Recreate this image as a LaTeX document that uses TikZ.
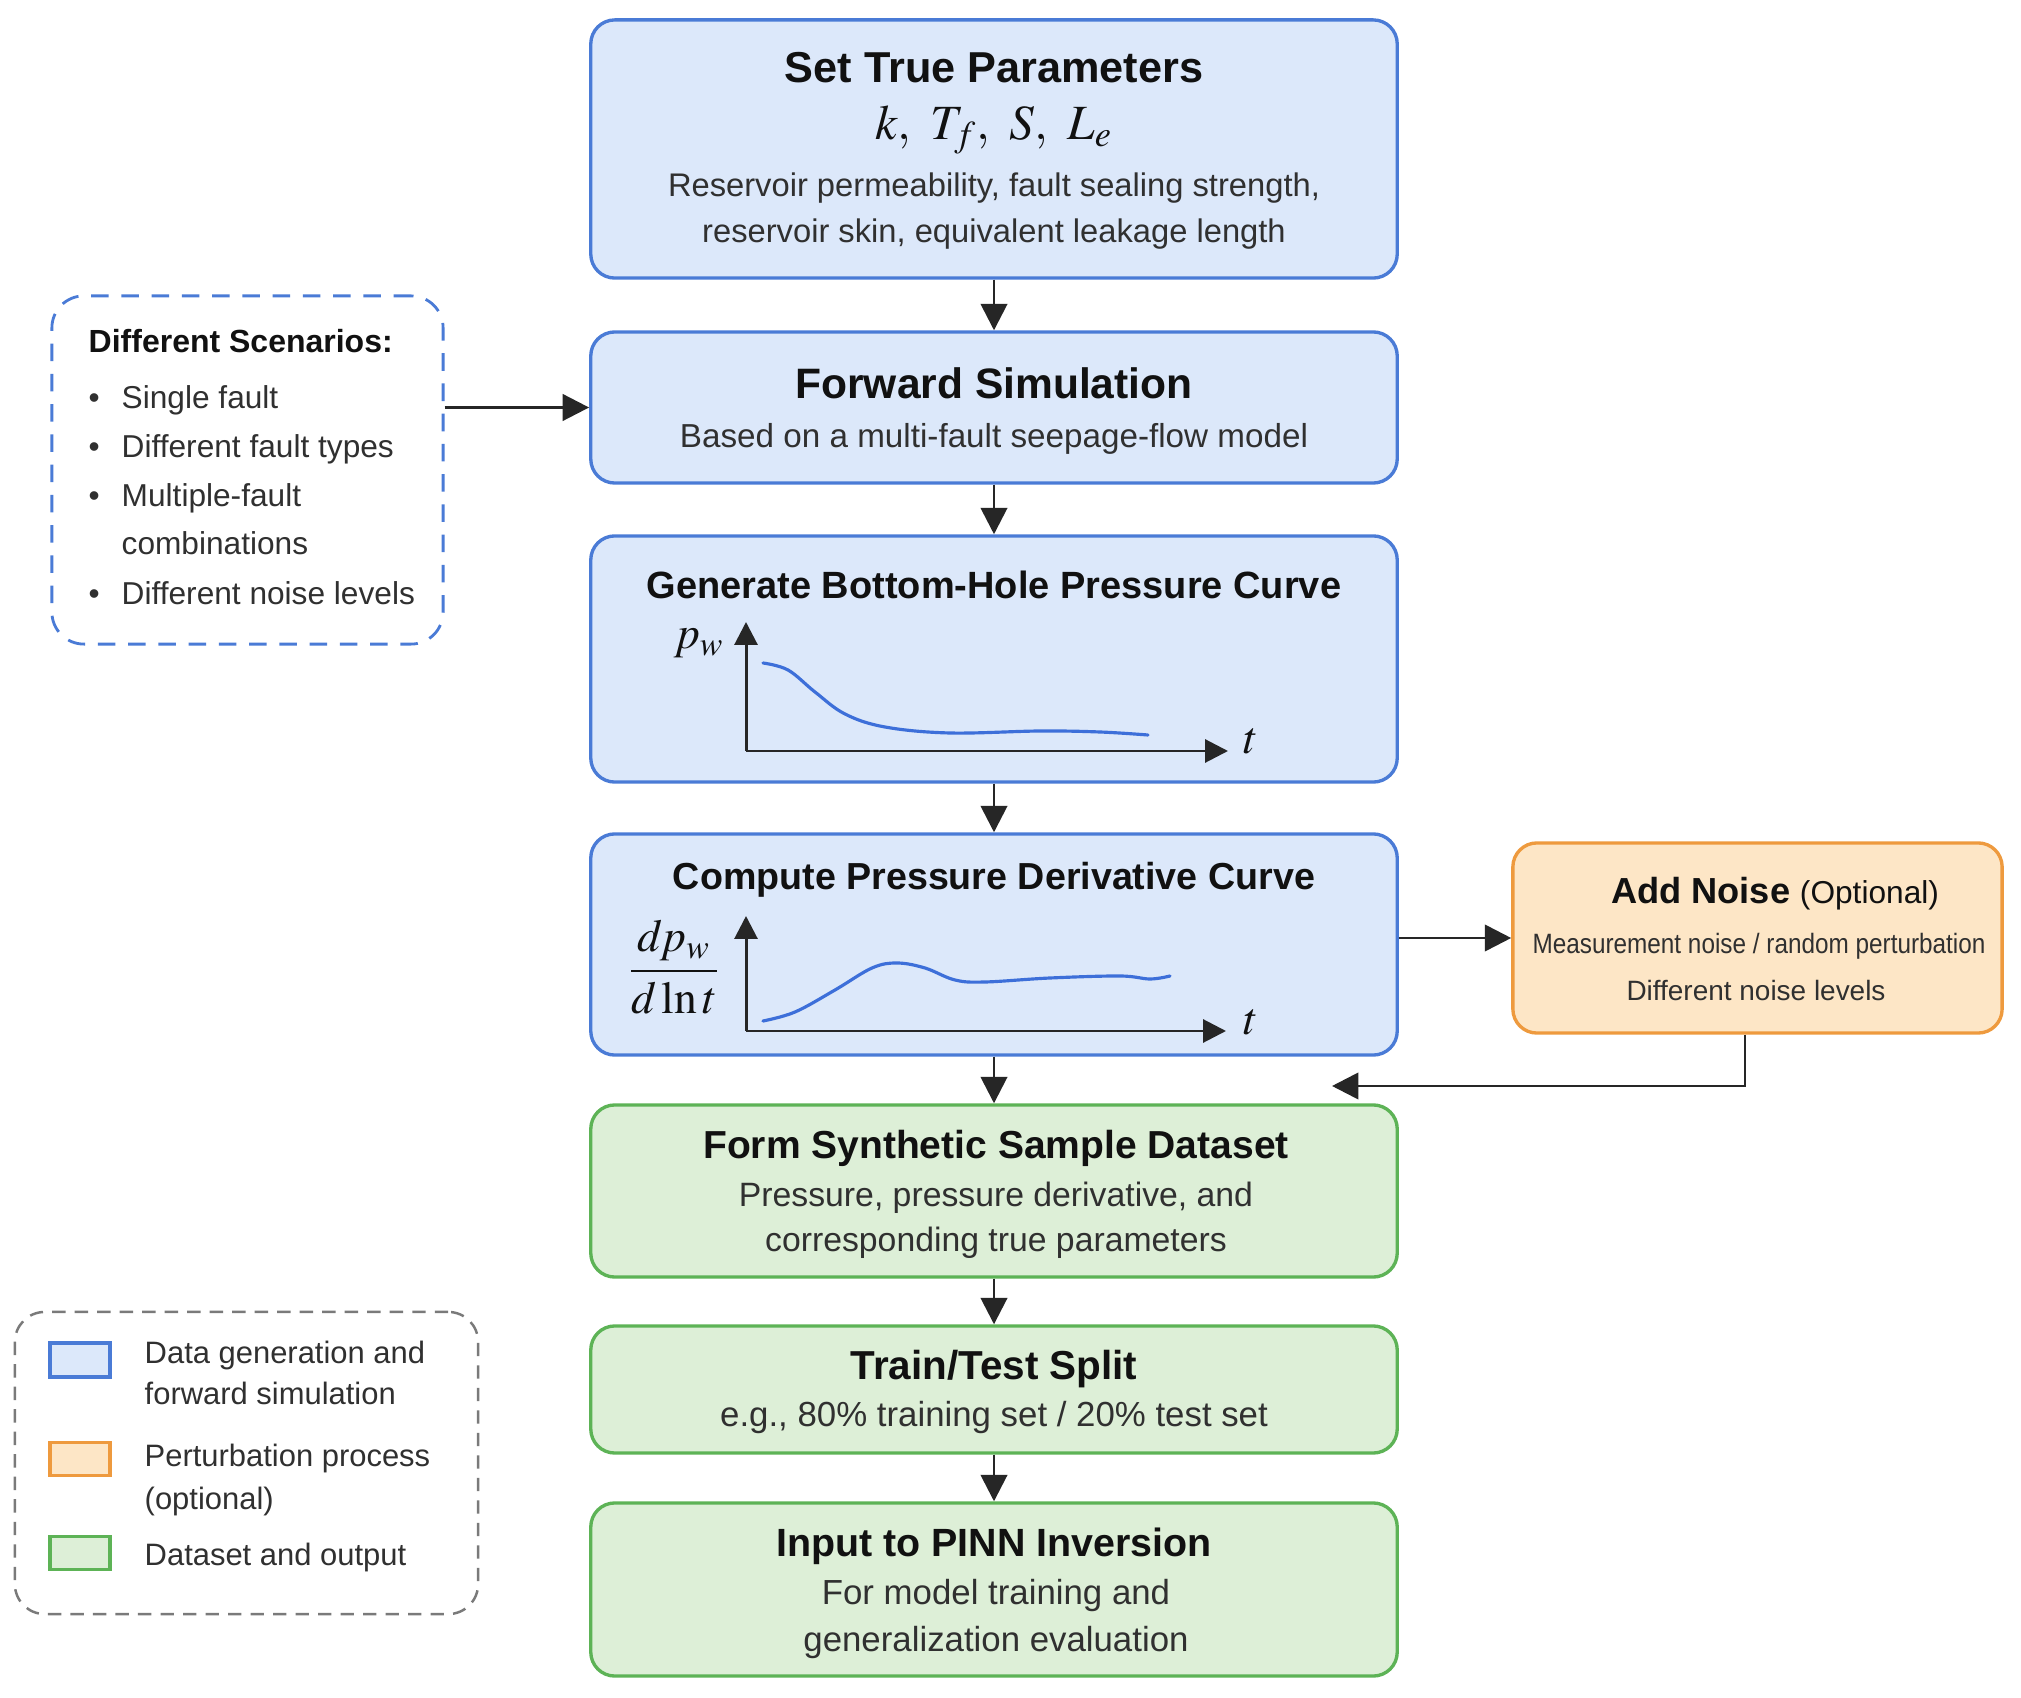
\documentclass[tikz,border=0pt]{standalone}
\usepackage{mathptmx}
\usepackage[no-math]{fontspec}
\setmainfont{Liberation Sans}
\usetikzlibrary{arrows.meta}
\definecolor{bblue}{HTML}{4A7BD6}
\definecolor{bfill}{HTML}{DCE8FA}
\definecolor{oline}{HTML}{EE9A3E}
\definecolor{ofill}{HTML}{FDE6C6}
\definecolor{gline}{HTML}{5DB356}
\definecolor{gfill}{HTML}{DDEFD7}
\definecolor{curvecol}{HTML}{3D6FD9}
\definecolor{txt}{HTML}{111111}
\definecolor{subtxt}{HTML}{303030}
\definecolor{legline}{HTML}{7A7A7A}
\newcommand{\myfs}[2]{\fontsize{#1}{#2}\selectfont}
\tikzset{
  box/.style={rounded corners=0.24cm, line width=0.95pt, inner sep=0pt},
  bluebox/.style={box, draw=bblue, fill=bfill},
  orangebox/.style={box, draw=oline, fill=ofill},
  greenbox/.style={box, draw=gline, fill=gfill},
  ttl/.style={text=txt, inner sep=0pt},
  subt/.style={text=subtxt, align=center, inner sep=0pt},
  lbl/.style={text=subtxt, inner sep=0pt, anchor=base west},
  arr/.style={draw=black!85, line width=0.8pt, -{Triangle[length=7.5pt,width=7.5pt]}},
  axisline/.style={draw=black!85, line width=0.85pt, -{Triangle[length=6.5pt,width=6.5pt]}},
  curveline/.style={draw=curvecol, line width=0.9pt, line cap=round},
  swatch/.style={line width=1pt},
}
\begin{document}
\begin{tikzpicture}[x=0.01cm, y=-0.01cm]
\useasboundingbox (0,0) rectangle (2021,1698);
\fill[white] (0,0) rectangle (2021,1698);

% main boxes
\node[bluebox, minimum width=8.06cm, minimum height=2.58cm] (b1) at (994,149) {};
\node[bluebox, minimum width=8.06cm, minimum height=1.51cm] (b2) at (994,407.5) {};
\node[bluebox, minimum width=8.06cm, minimum height=2.46cm] (b3) at (994,659) {};
\node[bluebox, minimum width=8.06cm, minimum height=2.21cm] (b4) at (994,944.5) {};
\node[greenbox, minimum width=8.06cm, minimum height=1.72cm] (b5) at (994,1191) {};
\node[greenbox, minimum width=8.06cm, minimum height=1.27cm] (b6) at (994,1389.5) {};
\node[greenbox, minimum width=8.06cm, minimum height=1.73cm] (b7) at (994,1589.5) {};
\node[orangebox, minimum width=4.89cm, minimum height=1.90cm] (noise) at (1757.5,938) {};
\node[draw=bblue, line width=0.8pt, dash pattern=on 5pt off 3.6pt, rounded corners=0.32cm,
      minimum width=3.91cm, minimum height=3.48cm, inner sep=0pt] (scen) at (247.5,470) {};
\node[draw=legline, line width=0.7pt, dash pattern=on 3.8pt off 2.6pt, rounded corners=0.3cm,
      minimum width=4.63cm, minimum height=3.02cm, inner sep=0pt] (legend) at (246.5,1463) {};

% box 1
\node[ttl, font=\myfs{12.3}{14}\bfseries] (t1) at (994,68) {Set True Parameters};
\node[ttl, font=\myfs{14}{16}] (m1) at (994,130) {$k,\ T_f,\ S,\ L_e$};
\node[subt, font=\myfs{9.3}{13.1}] (s1) at (994,211) {Reservoir permeability, fault sealing strength,\\reservoir skin, equivalent leakage length};

% box 2
\node[ttl, font=\myfs{12.1}{14}\bfseries] (t2) at (994,383) {Forward Simulation};
\node[subt, font=\myfs{9.45}{13}] (s2) at (994,439) {Based on a multi-fault seepage-flow model};

% box 3
\node[ttl, font=\myfs{10.8}{13}\bfseries] (t3) at (994,585) {Generate Bottom-Hole Pressure Curve};
\coordinate (o3) at (746,751);
\draw[axisline] (o3) -- (746,622);
\draw[axisline] (o3) -- (1228,751);
\draw[curveline] plot[smooth, tension=0.6] coordinates {(763,663) (788,670) (815,692) (845,714) (885,727) (950,733) (1040,731) (1100,732) (1148,735)};
\node[ttl, font=\myfs{13}{15}] (pw) at (699,643) {$p_w$};
\node[ttl, font=\myfs{13}{15}] (tx3) at (1251,741) {$t$};

% box 4
\node[ttl, font=\myfs{10.7}{13}\bfseries] (t4) at (994,880) {Compute Pressure Derivative Curve};
\coordinate (o4) at (746,1031);
\draw[axisline] (o4) -- (746,916);
\draw[axisline] (o4) -- (1226,1031);
\draw[curveline] plot[smooth, tension=0.6] coordinates {(763,1021) (795,1012) (835,990) (872,968) (897,963) (925,968) (955,980) (985,982) (1050,978) (1120,976) (1150,979) (1170,976)};
\node[ttl, font=\myfs{13}{15}] (frac4) at (674,967) {$\displaystyle\frac{d\mkern-1mu p_w}{d\ln t}$};
\node[ttl, font=\myfs{13}{15}] (tx4) at (1251,1022) {$t$};

% noise box
\node[ttl] (t8) at (1775,894) {{\myfs{10.3}{12}\bfseries Add Noise} {\myfs{9}{11}(Optional)}};
\node[subt, font=\myfs{7.95}{10}] (s8a) at (1759,946) {\scalebox{0.87}[1]{Measurement noise / random perturbation}};
\node[subt, font=\myfs{7.95}{10}] (s8b) at (1756,991) {Different noise levels};

% box 5
\node[ttl, font=\myfs{11.1}{13}\bfseries] (t5) at (996,1148) {Form Synthetic Sample Dataset};
\node[subt, font=\myfs{9.6}{12.8}] (s5) at (996,1220) {Pressure, pressure derivative, and\\corresponding true parameters};

% box 6
\node[ttl, font=\myfs{11.5}{13}\bfseries] (t6) at (994,1369) {Train/Test Split};
\node[subt, font=\myfs{9.9}{12}] (s6) at (994,1417) {e.g., 80\% training set / 20\% test set};

% box 7
\node[ttl, font=\myfs{11.2}{13}\bfseries] (t7) at (994,1546) {Input to PINN Inversion};
\node[subt, font=\myfs{9.9}{13.3}] (s7) at (996,1619) {For model training and\\generalization evaluation};

% scenarios text
\node[ttl, anchor=base west, font=\myfs{9.1}{11}\bfseries] (sh) at (88,353) {Different Scenarios:};
\node[lbl, font=\myfs{9}{11}] (sc1) at (88,409) {\makebox[0.33cm][l]{\textbullet}Single fault};
\node[lbl, font=\myfs{9}{11}] (sc2) at (88,458) {\makebox[0.33cm][l]{\textbullet}Different fault types};
\node[lbl, font=\myfs{9}{11}] (sc3) at (88,507) {\makebox[0.33cm][l]{\textbullet}Multiple-fault};
\node[lbl, font=\myfs{9}{11}] (sc3b) at (121,555) {combinations};
\node[lbl, font=\myfs{9}{11}] (sc4) at (88,605) {\makebox[0.33cm][l]{\textbullet}Different noise levels};

% legend
\node[swatch, draw=bblue, fill=bfill, minimum width=0.6cm, minimum height=0.34cm, inner sep=0pt] (lg1) at (80,1360) {};
\node[swatch, draw=oline, fill=ofill, minimum width=0.6cm, minimum height=0.33cm, inner sep=0pt] (lg2) at (80,1459) {};
\node[swatch, draw=gline, fill=gfill, minimum width=0.6cm, minimum height=0.33cm, inner sep=0pt] (lg3) at (80,1553) {};
\node[lbl, font=\myfs{8.8}{11}] (lt1) at (144,1363) {Data generation and};
\node[lbl, font=\myfs{8.8}{11}] (lt1b) at (144,1404) {forward simulation};
\node[lbl, font=\myfs{8.8}{11}] (lt2) at (144,1466) {Perturbation process};
\node[lbl, font=\myfs{8.8}{11}] (lt2b) at (144,1509) {(optional)};
\node[lbl, font=\myfs{8.8}{11}] (lt3) at (144,1565) {Dataset and output};

% connectors
\draw[arr] (b1) -- (b2);
\draw[arr] (b2) -- (b3);
\draw[arr] (b3) -- (b4);
\draw[arr] (b4) -- (b5);
\draw[arr] (b5) -- (b6);
\draw[arr] (b6) -- (b7);
\draw[arr] (scen.east |- b2.west) -- (b2.west);
\draw[arr] (b4.east |- noise.west) -- (noise.west);
\coordinate (merge) at (1332,1086);
\draw[arr] ([xshift=-0.125cm]noise.south) |- (merge);
\end{tikzpicture}
\end{document}
